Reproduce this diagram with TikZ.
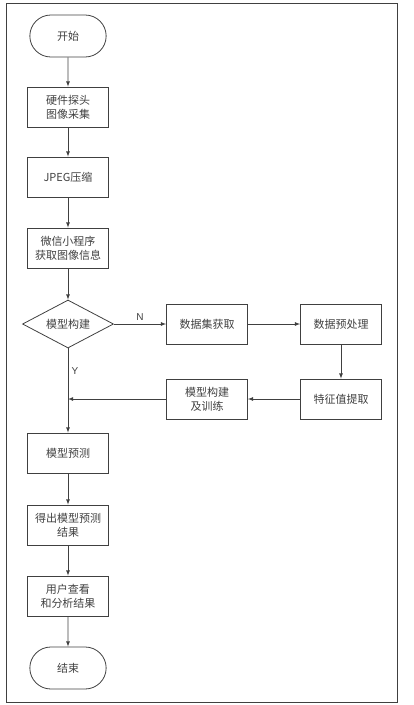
\documentclass[tikz,border=0pt]{standalone}
\usepackage{fontspec}
\setmainfont{Noto Sans CJK SC}
\newfontfamily\latinsans{Liberation Sans}
\usetikzlibrary{shapes, arrows, shapes.misc, positioning}
\definecolor{flowgray}{rgb}{0.25, 0.25, 0.25}
\begin{document}
\begin{tikzpicture}[x=1pt, y=-1pt, every path/.style={flowgray, thick}, >=latex,
        every node/.style={text=flowgray, font=\fontsize{11}{14}\selectfont, align=center},
        proc/.style={draw, rectangle, minimum width=81pt, minimum height=40pt, inner sep=1pt},
        term/.style={draw, rounded rectangle, minimum width=83pt, minimum height=42pt},
        cond/.style={draw, diamond, aspect=1.9, minimum width=91pt, minimum height=48pt, inner sep=0pt},
        flag/.style={font=\latinsans\fontsize{10}{12}\selectfont}]
        \useasboundingbox (0,0) rectangle (413,705);
        \draw[semithick] (6,3) rectangle (397,702);
        \node[term] (start) at (68,36) {开始};
        \node[proc] (grab) at (68,107) {硬件探头\\图像采集};
        \node[proc] (jpeg) at (68,177) {JPEG压缩};
        \node[proc] (wx) at (68,248) {微信小程序\\获取图像信息};
        \node[cond] (model) at (68,324) {模型构建};
        \node[proc] (data) at (207,324) {数据集获取};
        \node[proc] (prep) at (341,324) {数据预处理};
        \node[proc] (feat) at (341,399) {特征值提取};
        \node[proc] (train) at (207,399) {模型构建\\及训练};
        \node[proc] (pred) at (68,453) {模型预测};
        \node[proc] (res) at (68,525) {得出模型预测\\结果};
        \node[proc] (user) at (68,596) {用户查看\\和分析结果};
        \node[term] (stop) at (68,668) {结束};
        \coordinate (join) at (model.south |- train.west);
        \draw[->] (start) -- (grab);
        \draw[->] (grab) -- (jpeg);
        \draw[->] (jpeg) -- (wx);
        \draw[->] (wx) -- (model);
        \draw[->] (model) -- node[flag, above] {N} (data);
        \draw[->] (data) -- (prep);
        \draw[->] (prep) -- (feat);
        \draw[->] (feat) -- (train);
        \draw[->] (train) -- (join);
        \draw[->] (model) -- node[flag, pos=0.27, right] {Y} (pred);
        \draw[->] (pred) -- (res);
        \draw[->] (res) -- (user);
        \draw[->] (user) -- (stop);
    \end{tikzpicture}
\end{document}
